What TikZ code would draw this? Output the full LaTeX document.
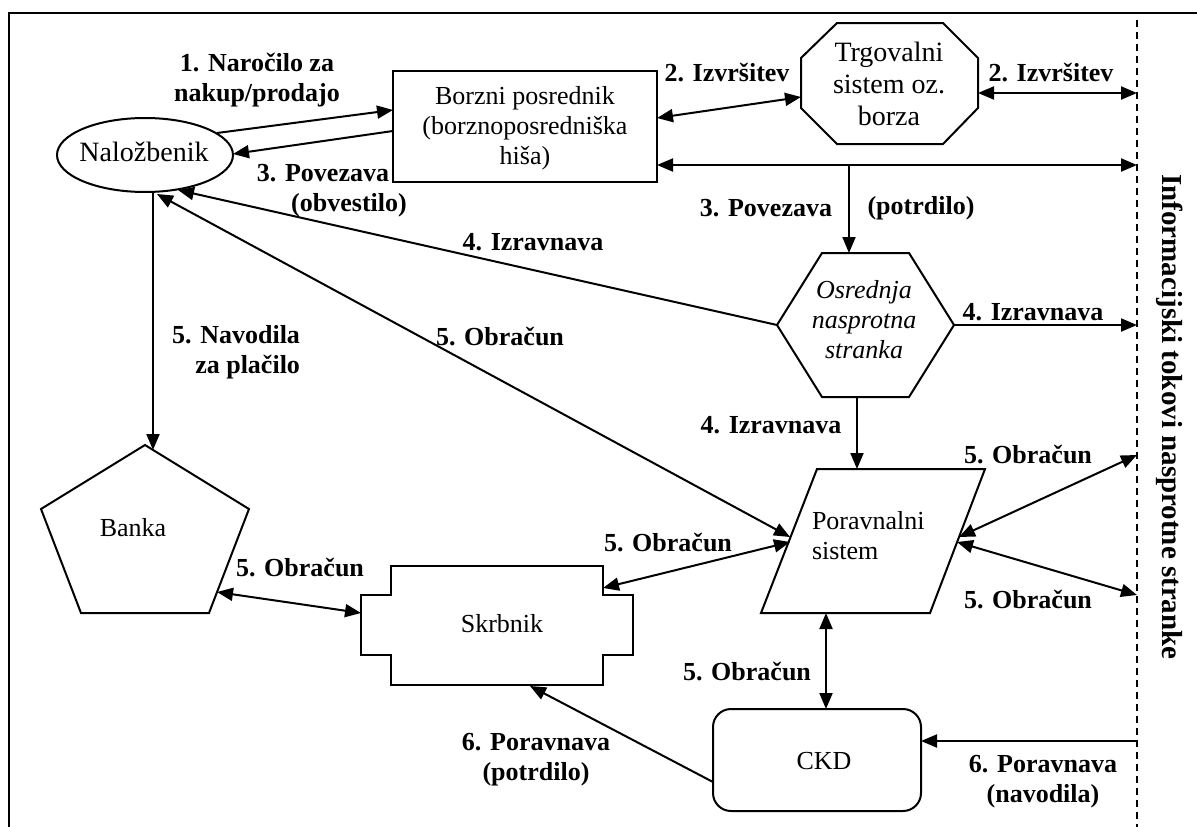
\documentclass[tikz,border=0pt]{standalone}
\usepackage{fontspec}
\setmainfont{Liberation Serif}
\usetikzlibrary{arrows.meta}
\begin{document}
\begin{tikzpicture}[x=1pt,y=-1pt,
  every node/.style={inner sep=0pt, outer sep=0pt},
  lbl/.style={font=\fontsize{26}{30}\selectfont\bfseries, align=center},
  txt/.style={font=\fontsize{26}{30}\selectfont, align=center},
  shp/.style={draw, line width=2pt, line join=miter},
  conn/.style={line width=2pt},
  tip/.tip={Triangle[length=16pt,width=13pt]},
  ar/.style={conn, -tip},
  dar/.style={conn, tip-tip},
]
\useasboundingbox (0,0) rectangle (1197,827);

% frame and the dashed boundary on the right
\draw[line width=2pt] (9,827) -- (9,13) -- (1197,13);
\draw[line width=1.6pt, dash pattern=on 7pt off 5pt] (1137,20) -- (1137,827);

% ---- shapes ----
% investor
\draw[shp] (145,155) ellipse [x radius=88, y radius=37];
% broker
\draw[shp] (393,71) rectangle (657,182);
% trading system (octagon)
\draw[shp] (837,23) -- (943,23) -- (978,58) -- (978,108) -- (943,144)
  -- (837,144) -- (801,108) -- (801,58) -- cycle;
% central counterparty (hexagon)
\draw[shp] (822,253) -- (909,253) -- (954,325) -- (909,397) -- (822,397)
  -- (777,325) -- cycle;
% settlement system (parallelogram)
\draw[shp] (817,469) -- (985,469) -- (930,613) -- (761,613) -- cycle;
% CKD
\draw[shp, rounded corners=18pt] (713,709) rectangle (921,811);
% custodian
\draw[shp] (391,566) -- (603,566) -- (603,595) -- (633,595) -- (633,655)
  -- (603,655) -- (603,685) -- (391,685) -- (391,655) -- (361,655)
  -- (361,595) -- (391,595) -- cycle;
% bank (pentagon)
\draw[shp] (145,445) -- (249,509) -- (209,613) -- (81,613) -- (41,509) -- cycle;

% ---- shape texts ----
\node[txt, font=\fontsize{28}{32}\selectfont] (nal) at (144,152) {Naložbenik};
\node[txt] (bp) at (525,128) {Borzni posrednik\\(borznoposredniška\\hiša)};
\node[txt, font=\fontsize{28}{32}\selectfont] (trg) at (889,84) {Trgovalni\\sistem oz.\\borza};
\node[txt, font=\fontsize{26}{30}\selectfont\itshape] (ccp) at (864,320) {Osrednja\\nasprotna\\stranka};
\node[txt, align=left, anchor=west] (ps) at (812,536) {Poravnalni\\sistem};
\node[txt] (ckd) at (824,761) {CKD};
\node[txt] (skr) at (502,624) {Skrbnik};
\node[txt] (ban) at (133,528) {Banka};
\node[font=\fontsize{29}{33}\selectfont\bfseries, rotate=-90] (vt) at (1170,417)
  {Informacijski tokovi nasprotne stranke};

% ---- connection points ----
\coordinate (nal-o) at (217,133);
\coordinate (nal-i) at (233,154);
\coordinate (nal-b) at (153,192);
\coordinate (nal-d1) at (178,190);
\coordinate (nal-d2) at (157,194);
\coordinate (bp-i) at (393,110);
\coordinate (bp-o) at (393,131);
\coordinate (bp-e1) at (657,118);
\coordinate (bp-e2) at (657,165);
\coordinate (bp-j) at (849,165);
\coordinate (trg-w) at (801,97);
\coordinate (trg-e) at (978,93);
\coordinate (ccp-n) at (849,253);
\coordinate (ccp-w) at (777,325);
\coordinate (ccp-e) at (954,325);
\coordinate (ccp-s) at (857,397);
\coordinate (ps-n) at (857,469);
\coordinate (ps-w1) at (790,537);
\coordinate (ps-w2) at (790,542);
\coordinate (ps-e1) at (959,537);
\coordinate (ps-e2) at (957,542);
\coordinate (ps-s) at (826,613);
\coordinate (ckd-n) at (826,709);
\coordinate (ckd-e) at (921,741);
\coordinate (ckd-w) at (713,782);
\coordinate (skr-s) at (530,686);
\coordinate (skr-ne) at (603,588);
\coordinate (skr-w) at (361,613);
\coordinate (ban-n) at (153,450);
\coordinate (ban-e) at (217,592);
\coordinate (ib1) at (1137,93);
\coordinate (ib2) at (1137,165);
\coordinate (ib3) at (1137,325);
\coordinate (ib4) at (1137,455);
\coordinate (ib5) at (1137,595);
\coordinate (ib6) at (1137,741);

% ---- connectors ----
\draw[ar] (nal-o) -- (bp-i);
\draw[ar] (bp-o) -- (nal-i);
\draw[dar] (bp-e1) -- (trg-w);
\draw[dar] (trg-e) -- (ib1);
\draw[dar] (bp-e2) -- (ib2);
\draw[ar] (bp-j) -- (ccp-n);
\draw[ar] (ccp-w) -- (nal-d1);
\draw[dar] (ps-w1) -- (nal-d2);
\draw[ar] (nal-b) -- (ban-n);
\draw[ar] (ccp-e) -- (ib3);
\draw[ar] (ccp-s) -- (ps-n);
\draw[dar] (ps-e1) -- (ib4);
\draw[dar] (ps-e2) -- (ib5);
\draw[dar] (ps-s) -- (ckd-n);
\draw[ar] (ib6) -- (ckd-e);
\draw[ar] (ckd-w) -- (skr-s);
\draw[dar] (ps-w2) -- (skr-ne);
\draw[dar] (ban-e) -- (skr-w);

% ---- connector labels ----
\node[lbl] (l1) at (257,80) {1. Naročilo za\\nakup/prodajo};
\node[lbl] (l2) at (323,173) {3. Povezava};
\node[lbl] (l3) at (349,205) {(obvestilo)};
\node[lbl] (l4) at (727,73) {2. Izvršitev};
\node[lbl] (l5) at (1051,73) {2. Izvršitev};
\node[lbl] (l6) at (766,208) {3. Povezava};
\node[lbl] (l7) at (921,208) {(potrdilo)};
\node[lbl] (l8) at (533,242) {4. Izravnava};
\node[lbl, align=right, anchor=east] (l9) at (300,352) {5. Navodila\\za plačilo};
\node[lbl] (l10) at (500,337) {5. Obračun};
\node[lbl] (l11) at (1033,312) {4. Izravnava};
\node[lbl] (l12) at (771,425) {4. Izravnava};
\node[lbl] (l13) at (1028,455) {5. Obračun};
\node[lbl] (l14) at (1028,600) {5. Obračun};
\node[lbl] (l15) at (747,672) {5. Obračun};
\node[lbl] (l16) at (668,543) {5. Obračun};
\node[lbl] (l17) at (300,568) {5. Obračun};
\node[lbl] (l18) at (536,760) {6. Poravnava\\(potrdilo)};
\node[lbl] (l19) at (1043,782) {6. Poravnava\\(navodila)};
\end{tikzpicture}
\end{document}
